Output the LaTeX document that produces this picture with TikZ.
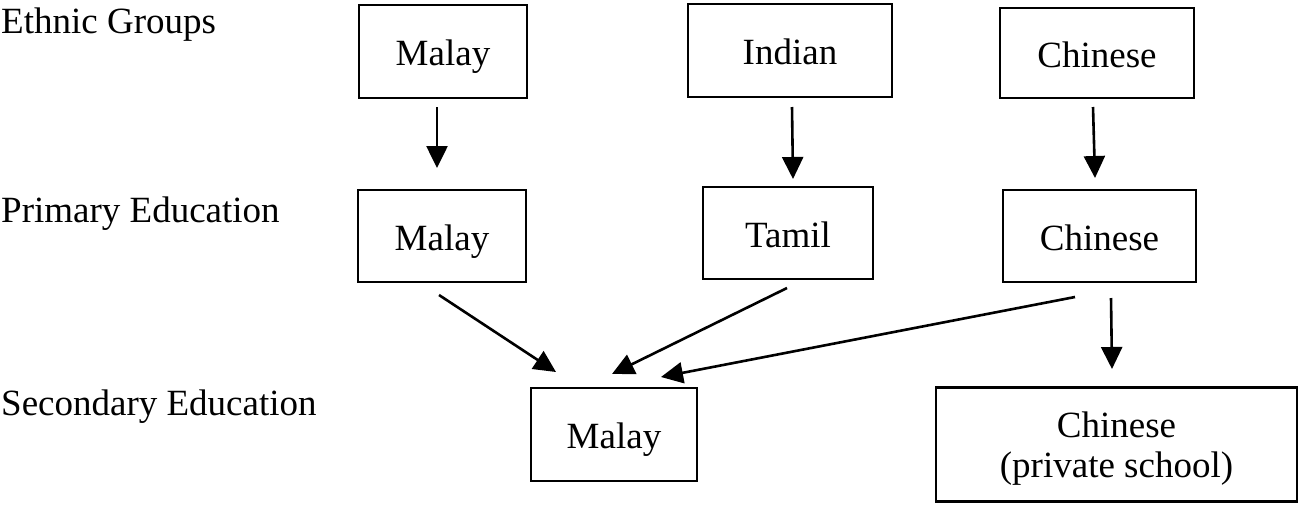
\documentclass[tikz,border=0pt]{standalone}
\usepackage{fontspec}
\setmainfont{Liberation Serif}
\usetikzlibrary{arrows.meta}
\begin{document}
\begin{tikzpicture}[x=1pt,y=-1pt,
  every node/.style={font=\fontsize{37}{40}\selectfont},
  box/.style={draw, line width=2.8pt, inner sep=0pt, text height=28pt, text depth=0pt},
  lbl/.style={anchor=base west, inner sep=0pt},
  conn/.style={line width=2.6pt, -{Triangle[length=22pt,width=21pt]}}]
\useasboundingbox (0,0) rectangle (1300,504);
% row labels
\node[lbl] (lEth) at (1,33) {Ethnic Groups};
\node[lbl] (lPri) at (1,222) {Primary Education};
\node[lbl] (lSec) at (1,415) {Secondary Education};
% ethnic groups
\node[box, minimum width=168pt, minimum height=93pt] (eMalay) at (443,51.5) {Malay};
\node[box, minimum width=204pt, minimum height=93pt] (eIndian) at (790,50.5) {Indian};
\node[box, minimum width=194pt, minimum height=90pt] (eChinese) at (1097,53) {Chinese};
% primary
\node[box, minimum width=168pt, minimum height=92pt] (pMalay) at (442,236) {Malay};
\node[box, minimum width=170pt, minimum height=92pt] (pTamil) at (788,233) {Tamil};
\node[box, minimum width=193pt, minimum height=92pt] (pChinese) at (1099.5,236) {Chinese};
% secondary
\node[box, minimum width=166pt, minimum height=93pt] (sMalay) at (614,434.5) {Malay};
\node[draw, line width=2.8pt, align=center, minimum width=361pt, minimum height=114pt, inner sep=0pt] (sChinese) at (1116.5,444.5) {\rule{0pt}{34pt}Chinese\\(private school)};
% connector end points
\coordinate (a1s) at (437,107);   \coordinate (a1e) at (437,168);
\coordinate (a2s) at (792,107);   \coordinate (a2e) at (793,179);
\coordinate (a3s) at (1093,107);  \coordinate (a3e) at (1095,178);
\coordinate (b1s) at (439,295);   \coordinate (b1e) at (556,372);
\coordinate (b2s) at (787,288);   \coordinate (b2e) at (612,374);
\coordinate (b3s) at (1075,297);  \coordinate (b3e) at (661,377);
\coordinate (b4s) at (1111,298);  \coordinate (b4e) at (1112,369);
% connectors
\draw[conn] (a1s) -- (a1e);
\draw[conn] (a2s) -- (a2e);
\draw[conn] (a3s) -- (a3e);
\draw[conn] (b1s) -- (b1e);
\draw[conn] (b2s) -- (b2e);
\draw[conn] (b3s) -- (b3e);
\draw[conn] (b4s) -- (b4e);
\end{tikzpicture}
\end{document}
